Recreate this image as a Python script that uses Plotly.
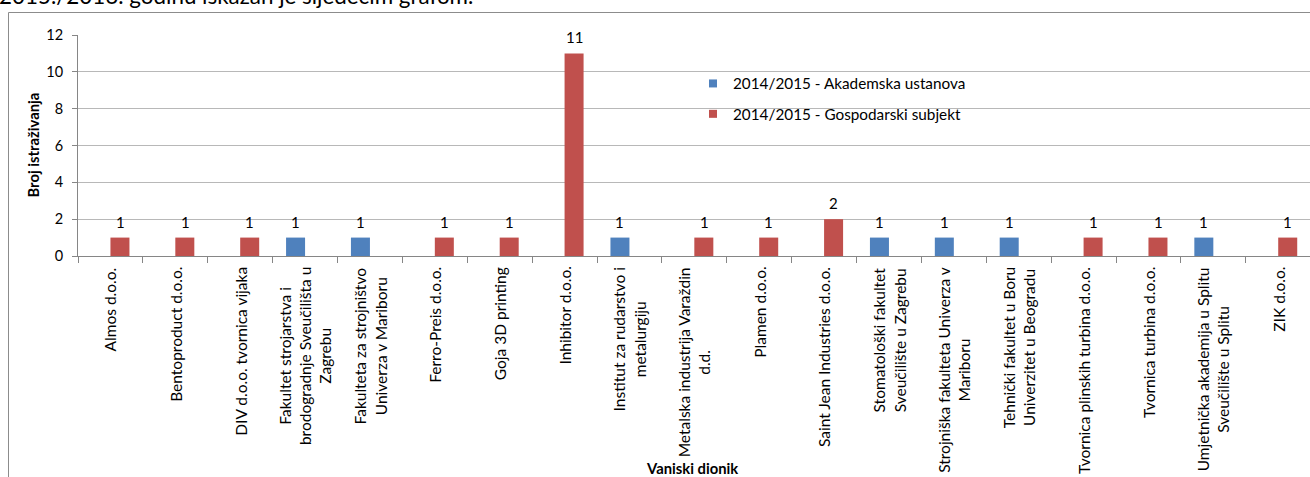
import plotly.graph_objects as go

# ---- data ----
categories = [
    "Almos d.o.o.", "Bentoproduct d.o.o.", "DIV d.o.o. tvornica vijaka",
    "Fakultet strojarstva i brodogradnje Sveučilišta u Zagrebu",
    "Fakulteta za strojništvo Univerza v Mariboru", "Ferro-Preis d.o.o.",
    "Goja 3D printing", "Inhibitor d.o.o.", "Institut za rudarstvo i metalurgiju",
    "Metalska industrija Varaždin d.d.", "Plamen d.o.o.", "Saint Jean Industries d.o.o.",
    "Stomatološki fakultet Sveučilište u Zagrebu", "Strojniška fakulteta Univerza v Mariboru",
    "Tehnički fakultet u Boru Univerzitet u Beogradu", "Tvornica plinskih turbina d.o.o.",
    "Tvornica turbina d.o.o.", "Umjetnička akademija u Splitu Sveučilište u Splitu", "ZIK d.o.o.",
]
tick_labels = [
    "Almos d.o.o.", "Bentoproduct d.o.o.", "DIV d.o.o. tvornica vijaka",
    "Fakultet strojarstva i<br>brodogradnje Sveučilišta u<br>Zagrebu",
    "Fakulteta za strojništvo<br>Univerza v Mariboru", "Ferro-Preis d.o.o.",
    "Goja 3D printing", "Inhibitor d.o.o.", "Institut za rudarstvo i<br>metalurgiju",
    "Metalska industrija Varaždin<br>d.d.", "Plamen d.o.o.", "Saint Jean Industries d.o.o.",
    "Stomatološki fakultet<br>Sveučilište u Zagrebu", "Strojniška fakulteta Univerza v<br>Mariboru",
    "Tehnički fakultet u Boru<br>Univerzitet u Beogradu", "Tvornica plinskih turbina d.o.o.",
    "Tvornica turbina d.o.o.", "Umjetnička akademija u Splitu<br>Sveučilište u Splitu", "ZIK d.o.o.",
]
akademska = [None, None, None, 1, 1, None, None, None, 1, None, None, None, 1, 1, 1, None, None, 1, None]
gospodarski = [1, 1, 1, None, None, 1, 1, 11, None, 1, 1, 2, None, None, None, 1, 1, None, 1]
series_names = ["2014/2015 - Akademska ustanova", "2014/2015 - Gospodarski subjekt"]
y_ticks = [0, 2, 4, 6, 8, 10, 12]

# ---- style ----
FONT = "Lato"
BLUE = "#4F81BD"
RED = "#C0504D"
AXIS = "#868686"
GRID = "#B8B8B8"
W, H = 1310, 477
ML, MT, MB = 78, 35, 221
PW, PH = W - ML, H - MT - MB


def px_x(px):
    return (px - ML) / PW


def px_y(py):
    return (H - MB - py) / PH


fig = go.Figure()
for name, vals, col, grp in [(series_names[0], akademska, BLUE, "a"),
                             (series_names[1], gospodarski, RED, "g")]:
    fig.add_trace(go.Bar(x=categories, y=vals, name=name, marker_color=col,
                         marker_line=dict(color=col, width=0), showlegend=False,
                         offsetgroup=grp))
    fig.add_trace(go.Scatter(x=[None], y=[None], mode="markers", name=name,
                             legendgroup=grp,
                             marker=dict(symbol="square", size=8, color=col)))

annotations = []
for vals, shift in [(akademska, -9.7), (gospodarski, 9.7)]:
    for c, v in zip(categories, vals):
        if v:
            annotations.append(dict(x=c, y=v, xref="x", yref="y", text=str(v),
                                    showarrow=False, xshift=shift, yshift=5,
                                    yanchor="bottom", font=dict(size=15, color="black", family=FONT)))
for c, t in zip(categories, tick_labels):
    annotations.append(dict(x=c, y=0, xref="x", yref="y", text=t, textangle=-90,
                            showarrow=False, yanchor="top", xanchor="center", yshift=-9,
                            align="center", font=dict(size=15.5, color="black", family=FONT)))
annotations.append(dict(x=px_x(32.5), y=px_y(145), xref="paper", yref="paper",
                        text="<b>Broj istraživanja</b>", textangle=-90, showarrow=False,
                        xanchor="center", yanchor="middle",
                        font=dict(size=14.8, color="black", family=FONT)))
annotations.append(dict(x=px_x(692), y=px_y(468), xref="paper", yref="paper",
                        text="<b>Vaniski dionik</b>", showarrow=False,
                        xanchor="center", yanchor="middle",
                        font=dict(size=14.8, color="black", family=FONT)))
annotations.append(dict(x=px_x(-3), y=px_y(11), xref="paper", yref="paper",
                        text="2015./2016. godinu iskazan je sljedećim grafom.", showarrow=False,
                        xanchor="left", yanchor="bottom",
                        font=dict(size=22.4, color="black", family=FONT)))

fig.update_layout(
    width=W, height=H,
    margin=dict(l=ML, r=0, t=MT, b=MB, autoexpand=False),
    paper_bgcolor="white", plot_bgcolor="white",
    barmode="group", bargap=0.414, bargroupgap=0,
    font=dict(family=FONT, size=14, color="black"),
    annotations=annotations,
    legend=dict(x=px_x(693), y=px_y(67), xanchor="left", yanchor="top",
                bgcolor="rgba(0,0,0,0)", traceorder="grouped", tracegroupgap=7.5,
                font=dict(size=15.3, family=FONT, color="black")),
    shapes=[dict(type="rect", xref="paper", yref="paper",
                 x0=px_x(8.5), x1=px_x(1330), y0=px_y(520), y1=px_y(12.5),
                 line=dict(color="#8C8C8C", width=1), fillcolor="rgba(0,0,0,0)", layer="below")],
)
fig.update_xaxes(type="category", range=[-0.5, 18.49], showticklabels=False,
                 ticks="outside", tickson="boundaries", ticklen=6, tickcolor=AXIS,
                 showline=True, linecolor=AXIS, linewidth=1, showgrid=False, zeroline=False)
fig.update_yaxes(range=[0, 12], tickvals=y_ticks, ticks="outside", ticklen=5, tickcolor=AXIS,
                 showline=True, linecolor=AXIS, linewidth=1, showgrid=True, gridcolor=GRID,
                 zeroline=False, ticklabelstandoff=6,
                 tickfont=dict(size=14.5, family=FONT, color="black"))

fig.write_html("out.html", config={"displayModeBar": False},
               post_script="document.body.style.margin='0';")
